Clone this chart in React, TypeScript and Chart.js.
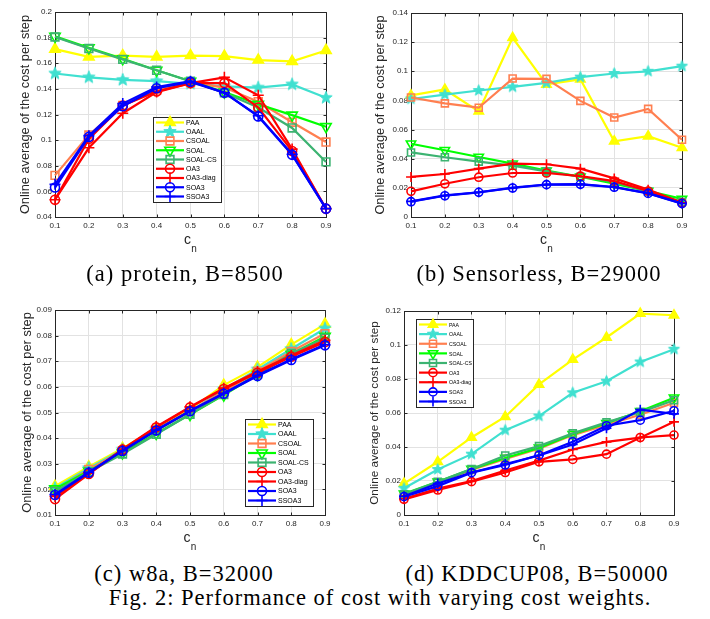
import React, { useEffect, useRef } from "react";
import { Chart, registerables } from "chart.js";

Chart.register(...registerables);

// ---- data ----------------------------------------------------------------
const costWeights = [0.1, 0.2, 0.3, 0.4, 0.5, 0.6, 0.7, 0.8, 0.9];
const methodNames = ["PAA", "OAAL", "CSOAL", "SOAL", "SOAL-CS", "OA3", "OA3-diag", "SOA3", "SSOA3"];

// (a) protein, B=8500
const proteinPAA = [0.171, 0.165, 0.166, 0.165, 0.166, 0.1655, 0.1625, 0.1615, 0.17];
const proteinOAAL = [0.152, 0.149, 0.147, 0.146, 0.144, 0.142, 0.141, 0.1435, 0.133];
const proteinCSOAL = [0.0725, 0.104, 0.127, 0.139, 0.145, 0.141, 0.13, 0.114, 0.0985];
const proteinSOAL = [0.181, 0.172, 0.1635, 0.1545, 0.146, 0.1375, 0.128, 0.1195, 0.1105];
const proteinSOALCS = [0.1805, 0.1715, 0.163, 0.1545, 0.146, 0.137, 0.1255, 0.1095, 0.083];
const proteinOA3 = [0.0535, 0.101, 0.127, 0.138, 0.1445, 0.1445, 0.1255, 0.0915, 0.0465];
const proteinOA3diag = [0.0535, 0.094, 0.121, 0.1375, 0.1445, 0.149, 0.135, 0.093, 0.0465];
const proteinSOA3 = [0.063, 0.1025, 0.1265, 0.1405, 0.1455, 0.137, 0.1185, 0.0885, 0.0465];
const proteinSSOA3 = [0.0655, 0.1035, 0.1285, 0.1415, 0.146, 0.137, 0.119, 0.089, 0.0465];

// (b) Sensorless, B=29000
const sensPAA = [0.0835, 0.0875, 0.0725, 0.123, 0.091, 0.0945, 0.052, 0.0555, 0.0475];
const sensOAAL = [0.081, 0.084, 0.0868, 0.0893, 0.092, 0.096, 0.0985, 0.1, 0.1035];
const sensCSOAL = [0.082, 0.078, 0.075, 0.095, 0.0948, 0.0797, 0.0683, 0.0742, 0.053];
const sensSOAL = [0.0503, 0.0458, 0.0412, 0.0366, 0.0318, 0.0276, 0.0228, 0.0178, 0.0124];
const sensSOALCS = [0.0443, 0.041, 0.038, 0.0352, 0.0313, 0.0276, 0.024, 0.0176, 0.0105];
const sensOA3 = [0.0176, 0.0228, 0.0273, 0.0302, 0.0302, 0.028, 0.0246, 0.0178, 0.0096];
const sensOA3diag = [0.0275, 0.0295, 0.0332, 0.0366, 0.0362, 0.0332, 0.0265, 0.0188, 0.0097];
const sensSOA3 = [0.0105, 0.0146, 0.0169, 0.0199, 0.0222, 0.0224, 0.0204, 0.0162, 0.0092];
const sensSSOA3 = [0.0107, 0.0148, 0.017, 0.0201, 0.0223, 0.0225, 0.0206, 0.0164, 0.0093];

// (c) w8a, B=32000
const w8aPAA = [0.0212, 0.0288, 0.036, 0.044, 0.0512, 0.0607, 0.0677, 0.0765, 0.0845];
const w8aOAAL = [0.0205, 0.0283, 0.0355, 0.0432, 0.0503, 0.059, 0.0668, 0.0748, 0.0828];
const w8aCSOAL = [0.0198, 0.0278, 0.035, 0.043, 0.0505, 0.0582, 0.066, 0.0738, 0.0808];
const w8aSOAL = [0.0202, 0.0272, 0.0342, 0.0418, 0.0492, 0.0568, 0.0648, 0.0727, 0.0797];
const w8aSOALCS = [0.0192, 0.0268, 0.0338, 0.0415, 0.0493, 0.057, 0.065, 0.073, 0.079];
const w8aOA3 = [0.0162, 0.026, 0.0355, 0.0442, 0.052, 0.0592, 0.0655, 0.0718, 0.0775];
const w8aOA3diag = [0.0172, 0.0262, 0.0357, 0.0445, 0.0522, 0.0595, 0.066, 0.0722, 0.0782];
const w8aSOA3 = [0.0178, 0.0265, 0.035, 0.043, 0.0505, 0.0573, 0.0642, 0.0705, 0.0762];
const w8aSSOA3 = [0.018, 0.0267, 0.0351, 0.0432, 0.0507, 0.0575, 0.0645, 0.0708, 0.0765];

// (d) KDDCUP08, B=50000
const kddPAA = [0.0185, 0.0313, 0.0456, 0.0578, 0.0768, 0.0914, 0.1044, 0.1185, 0.1175];
const kddOAAL = [0.0157, 0.0268, 0.0358, 0.0499, 0.0582, 0.0719, 0.0787, 0.09, 0.0975];
const kddCSOAL = [0.012, 0.019, 0.0265, 0.033, 0.039, 0.047, 0.053, 0.059, 0.066];
const kddSOAL = [0.0125, 0.0195, 0.027, 0.0335, 0.0395, 0.0475, 0.054, 0.061, 0.069];
const kddSOALCS = [0.0122, 0.0195, 0.027, 0.035, 0.0405, 0.048, 0.0545, 0.0605, 0.0675];
const kddOA3 = [0.0092, 0.0147, 0.0196, 0.025, 0.0313, 0.0327, 0.0358, 0.0456, 0.047];
const kddOA3diag = [0.0095, 0.0155, 0.02, 0.0262, 0.032, 0.0385, 0.043, 0.0455, 0.0548];
const kddSOA3 = [0.0108, 0.017, 0.0249, 0.0294, 0.0352, 0.0431, 0.0525, 0.0558, 0.0613];
const kddSSOA3 = [0.011, 0.0185, 0.025, 0.03, 0.035, 0.0415, 0.051, 0.062, 0.0595];

// ---- styling -------------------------------------------------------------
type Marker = "triangle" | "star" | "rect" | "triangleDown" | "circle" | "cross";

const methodColors = ["#FFFF00", "#40E0D0", "#FF7F50", "#00FF00", "#3CB371", "#FF0000", "#FF0000", "#0000FF", "#0000FF"];
const methodMarkers: Marker[] = ["triangle", "star", "rect", "triangleDown", "rect", "circle", "cross", "circle", "cross"];
const methodFilled = [true, true, false, false, false, false, false, false, false];
const markerRadius: Record<Marker, number> = {
  triangle: 6,
  star: 6.5,
  rect: 5.5,
  triangleDown: 6,
  circle: 4.5,
  cross: 5.5,
};

const AXIS = "#262626";
const GRID = "#e2e2e2";
const SANS = "'Liberation Sans', Arial, Helvetica, sans-serif";
const SERIF = "'Liberation Serif', 'Times New Roman', serif";
const CANVAS_W = 355;
const CANVAS_H = 262;
const LINE_W = 2.2;

interface LegendBox {
  x: number;
  y: number;
  w: number;
  h: number;
  font: number;
  squeeze: number;
}

interface PanelSpec {
  key: string;
  caption: string;
  series: number[][];
  yMin: number;
  yMax: number;
  yStep: number;
  left: number;
  top: number;
  area: [number, number, number, number];
  legend: LegendBox | null;
  titleSize: number;
  titleGap: number;
  markerScale: number;
  captionX: number;
  captionBaseline: number;
}

const panels: PanelSpec[] = [
  {
    key: "protein",
    caption: "(a) protein, B=8500",
    series: [proteinPAA, proteinOAAL, proteinCSOAL, proteinSOAL, proteinSOALCS, proteinOA3, proteinOA3diag, proteinSOA3, proteinSSOA3],
    yMin: 0.04,
    yMax: 0.2,
    yStep: 0.02,
    left: 0,
    top: 0,
    area: [55, 12, 326, 217],
    legend: { x: 153, y: 117, w: 68, h: 85, font: 7, squeeze: 1 },
    titleSize: 12.8,
    titleGap: 30,
    markerScale: 1,
    captionX: 185,
    captionBaseline: 282,
  },
  {
    key: "sensorless",
    caption: "(b) Sensorless, B=29000",
    series: [sensPAA, sensOAAL, sensCSOAL, sensSOAL, sensSOALCS, sensOA3, sensOA3diag, sensSOA3, sensSSOA3],
    yMin: 0,
    yMax: 0.14,
    yStep: 0.02,
    left: 355,
    top: 0,
    area: [56, 13, 327, 217],
    legend: null,
    titleSize: 12.8,
    titleGap: 31,
    markerScale: 0.9,
    captionX: 539,
    captionBaseline: 282,
  },
  {
    key: "w8a",
    caption: "(c) w8a, B=32000",
    series: [w8aPAA, w8aOAAL, w8aCSOAL, w8aSOAL, w8aSOALCS, w8aOA3, w8aOA3diag, w8aSOA3, w8aSSOA3],
    yMin: 0.01,
    yMax: 0.09,
    yStep: 0.01,
    left: 0,
    top: 295,
    area: [55, 15, 325, 220],
    legend: { x: 245, y: 124, w: 68, h: 87, font: 7, squeeze: 1 },
    titleSize: 12.9,
    titleGap: 28,
    markerScale: 1,
    captionX: 184,
    captionBaseline: 582,
  },
  {
    key: "kddcup08",
    caption: "(d) KDDCUP08, B=50000",
    series: [kddPAA, kddOAAL, kddCSOAL, kddSOAL, kddSOALCS, kddOA3, kddOA3diag, kddSOA3, kddSSOA3],
    yMin: 0,
    yMax: 0.12,
    yStep: 0.02,
    left: 355,
    top: 295,
    area: [49, 16, 319, 220],
    legend: { x: 61, y: 24, w: 57, h: 88, font: 6, squeeze: 0.87 },
    titleSize: 11.8,
    titleGap: 29.5,
    markerScale: 0.9,
    captionX: 537,
    captionBaseline: 582,
  },
];

// ---- marker drawing --------------------------------------------------------
function makeStarImage(color: string, r: number): HTMLCanvasElement {
  const size = Math.ceil(2 * r + 3);
  const c = document.createElement("canvas");
  c.width = size;
  c.height = size;
  const g = c.getContext("2d")!;
  tracePentagram(g, size / 2, size / 2, r);
  g.fillStyle = color;
  g.fill();
  g.strokeStyle = color;
  g.lineWidth = 1;
  g.stroke();
  return c;
}

function tracePentagram(g: CanvasRenderingContext2D, cx: number, cy: number, r: number) {
  const inner = r * 0.42;
  g.beginPath();
  for (let k = 0; k < 10; k++) {
    const rr = k % 2 === 0 ? r : inner;
    const a = -Math.PI / 2 + (k * Math.PI) / 5;
    const px = cx + rr * Math.cos(a);
    const py = cy + rr * Math.sin(a);
    if (k === 0) g.moveTo(px, py);
    else g.lineTo(px, py);
  }
  g.closePath();
}

function drawMarker(g: CanvasRenderingContext2D, m: Marker, x: number, y: number, r: number, color: string, filled: boolean) {
  g.save();
  g.strokeStyle = color;
  g.fillStyle = color;
  g.lineWidth = 1.6;
  g.beginPath();
  if (m === "triangle" || m === "triangleDown") {
    const rot = m === "triangle" ? 0 : Math.PI;
    for (let k = 0; k < 3; k++) {
      const a = rot + (k * 2 * Math.PI) / 3;
      const px = x + Math.sin(a) * r;
      const py = y - Math.cos(a) * r;
      if (k === 0) g.moveTo(px, py);
      else g.lineTo(px, py);
    }
    g.closePath();
  } else if (m === "rect") {
    const s = Math.SQRT1_2 * r;
    g.rect(x - s, y - s, 2 * s, 2 * s);
  } else if (m === "circle") {
    g.arc(x, y, r, 0, Math.PI * 2);
  } else if (m === "cross") {
    g.moveTo(x - r, y);
    g.lineTo(x + r, y);
    g.moveTo(x, y - r);
    g.lineTo(x, y + r);
  } else if (m === "star") {
    tracePentagram(g, x, y, r);
    g.lineWidth = 1;
  }
  if (filled) g.fill();
  g.stroke();
  g.restore();
}

// ---- chart plugin: box, inward ticks, labels, legend -----------------------
function decorations(spec: PanelSpec) {
  return {
    id: "matlabDecor",
    beforeDatasetsDraw(chart: any) {
      const { ctx, chartArea, scales } = chart;
      const { left, top, right, bottom } = chartArea;
      const al = (v: number) => Math.round(v) + 0.5;
      ctx.save();
      ctx.strokeStyle = AXIS;
      ctx.lineWidth = 1;
      ctx.beginPath();
      ctx.moveTo(al(left), al(top));
      ctx.lineTo(al(right), al(top));
      ctx.lineTo(al(right), al(bottom));
      for (const t of scales.x.ticks) {
        const px = al(scales.x.getPixelForValue(t.value));
        ctx.moveTo(px, al(bottom));
        ctx.lineTo(px, al(bottom) - 3);
        ctx.moveTo(px, al(top));
        ctx.lineTo(px, al(top) + 3);
      }
      for (const t of scales.y.ticks) {
        const py = al(scales.y.getPixelForValue(t.value));
        ctx.moveTo(al(left), py);
        ctx.lineTo(al(left) + 3, py);
        ctx.moveTo(al(right), py);
        ctx.lineTo(al(right) - 3, py);
      }
      ctx.stroke();
      ctx.restore();
    },
    afterDraw(chart: any) {
      const { ctx, chartArea } = chart;
      const { left, top, right, bottom } = chartArea;
      const cx = (left + right) / 2;
      ctx.save();
      ctx.fillStyle = AXIS;

      // vertical axis title
      ctx.save();
      ctx.translate(left - spec.titleGap, (top + bottom) / 2);
      ctx.rotate(-Math.PI / 2);
      ctx.font = `${spec.titleSize}px ${SANS}`;
      ctx.textAlign = "center";
      ctx.textBaseline = "middle";
      ctx.fillText("Online average of the cost per step", 0, 0);
      ctx.restore();

      // horizontal axis title: c with subscript n
      ctx.textAlign = "center";
      ctx.textBaseline = "middle";
      ctx.font = `14px ${SANS}`;
      ctx.fillText("c", cx - 3, bottom + 23);
      ctx.font = `10px ${SANS}`;
      ctx.fillText("n", cx + 3.5, bottom + 32);

      // legend
      const lg = spec.legend;
      if (lg) {
        ctx.fillStyle = "#ffffff";
        ctx.fillRect(lg.x, lg.y, lg.w, lg.h);
        ctx.strokeStyle = AXIS;
        ctx.lineWidth = 1;
        ctx.strokeRect(lg.x + 0.5, lg.y + 0.5, lg.w, lg.h);
        const rowH = (lg.h - 11) / 8;
        methodNames.forEach((name, i) => {
          const yy = lg.y + 5.5 + i * rowH;
          const x0 = lg.x + 3;
          const x1 = lg.x + 31;
          ctx.strokeStyle = methodColors[i];
          ctx.lineWidth = LINE_W;
          ctx.beginPath();
          ctx.moveTo(x0, yy);
          ctx.lineTo(x1, yy);
          ctx.stroke();
          const m = methodMarkers[i];
          drawMarker(ctx, m, (x0 + x1) / 2, yy, markerRadius[m] * spec.markerScale, methodColors[i], methodFilled[i]);
          ctx.save();
          ctx.translate(lg.x + 33, yy);
          ctx.scale(lg.squeeze, 1);
          ctx.fillStyle = "#000000";
          ctx.font = `${lg.font}px ${SANS}`;
          ctx.textAlign = "left";
          ctx.textBaseline = "middle";
          ctx.fillText(name, 0, 0.5);
          ctx.restore();
        });
      }
      ctx.restore();
    },
  };
}

const tickLabel = (v: number | string) => String(parseFloat(Number(v).toFixed(3)));

function buildConfig(spec: PanelSpec): any {
  const [L, T, R, B] = spec.area;
  const datasets = spec.series.map((values, i) => {
    const m = methodMarkers[i];
    const r = markerRadius[m] * spec.markerScale;
    const color = methodColors[i];
    return {
      label: methodNames[i],
      data: costWeights.map((c, k) => ({ x: c, y: values[k] })),
      borderColor: color,
      backgroundColor: color,
      borderWidth: LINE_W,
      tension: 0,
      clip: false,
      order: methodNames.length - i,
      pointStyle: m === "star" ? makeStarImage(color, r) : m === "triangleDown" ? "triangle" : m,
      pointRotation: m === "triangleDown" ? 180 : 0,
      pointRadius: r,
      pointHoverRadius: r,
      pointBorderWidth: 1.6,
      pointBorderColor: color,
      pointBackgroundColor: methodFilled[i] ? color : "rgba(0,0,0,0)",
    };
  });

  return {
    type: "line",
    data: { datasets },
    options: {
      responsive: false,
      animation: false,
      devicePixelRatio: 1,
      events: [],
      layout: { padding: { left: 0, top: T, right: CANVAS_W - R, bottom: 0 } },
      plugins: {
        legend: { display: false },
        tooltip: { enabled: false },
      },
      scales: {
        x: {
          type: "linear",
          min: 0.1,
          max: 0.9,
          ticks: {
            stepSize: 0.1,
            callback: tickLabel,
            color: AXIS,
            font: { family: SANS, size: 8 },
            padding: 4,
            maxRotation: 0,
            autoSkip: false,
          },
          grid: { color: GRID, lineWidth: 1, drawTicks: false },
          border: { color: AXIS, width: 1 },
          afterFit: (scale: any) => {
            scale.height = CANVAS_H - B;
          },
        },
        y: {
          type: "linear",
          min: spec.yMin,
          max: spec.yMax,
          ticks: {
            stepSize: spec.yStep,
            callback: tickLabel,
            color: AXIS,
            font: { family: SANS, size: 8 },
            padding: 3,
            autoSkip: false,
          },
          grid: { color: GRID, lineWidth: 1, drawTicks: false },
          border: { color: AXIS, width: 1 },
          afterFit: (scale: any) => {
            scale.width = L;
          },
        },
      },
    },
    plugins: [decorations(spec)],
  };
}

function Panel({ spec }: { spec: PanelSpec }) {
  const ref = useRef<HTMLCanvasElement>(null);
  useEffect(() => {
    if (!ref.current) return;
    const chart = new Chart(ref.current, buildConfig(spec));
    return () => chart.destroy();
  }, [spec]);
  return (
    <canvas
      ref={ref}
      width={CANVAS_W}
      height={CANVAS_H}
      style={{ position: "absolute", left: spec.left, top: spec.top, width: CANVAS_W, height: CANVAS_H }}
    />
  );
}

function Caption({ text, cx, baseline, size }: { text: string; cx: number; baseline: number; size: number }) {
  return (
    <div
      style={{
        position: "absolute",
        left: cx - 300,
        width: 600,
        top: baseline - size * 0.8375,
        fontFamily: SERIF,
        fontSize: size,
        lineHeight: `${size}px`,
        letterSpacing: "1px",
        textAlign: "center",
        color: "#000",
        whiteSpace: "nowrap",
      }}
    >
      {text}
    </div>
  );
}

export default function App() {
  return (
    <div style={{ position: "absolute", left: 0, top: 0, width: 710, height: 619, background: "#fff", overflow: "hidden" }}>
      {panels.map((p) => (
        <Panel key={p.key} spec={p} />
      ))}
      {panels.map((p) => (
        <Caption key={p.key + "-cap"} text={p.caption} cx={p.captionX} baseline={p.captionBaseline} size={22.5} />
      ))}
      <Caption text="Fig. 2: Performance of cost with varying cost weights." cx={380} baseline={606} size={22.5} />
    </div>
  );
}
